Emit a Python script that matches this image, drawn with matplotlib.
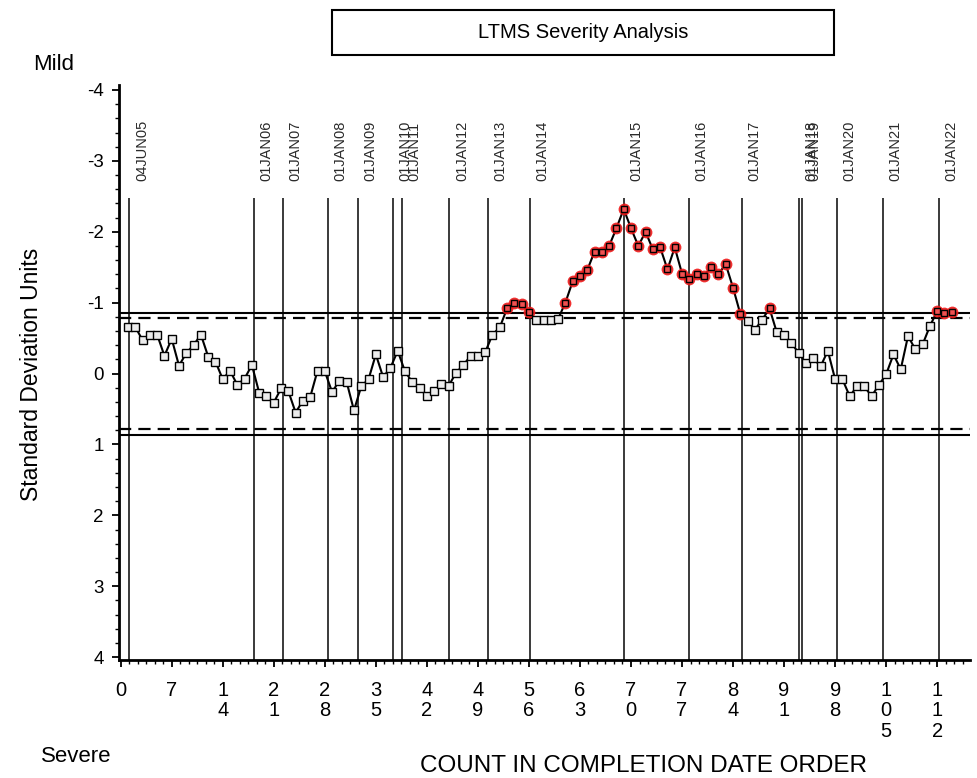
import numpy as np
import matplotlib
matplotlib.use("Agg")
import matplotlib.pyplot as plt
from matplotlib.patches import Rectangle
from matplotlib.ticker import MultipleLocator, AutoMinorLocator, FuncFormatter

plt.rcParams.update({
    "font.family": ["Liberation Sans", "DejaVu Sans"],
    "axes.unicode_minus": False,
})

# --------------- DATA -------------------------------------------------------
# severity in standard deviation units, one value per test (completion order)
sd_units = [
    -0.66, -0.66, -0.47, -0.55, -0.55, -0.25, -0.49, -0.11, -0.29, -0.40,
    -0.55, -0.24, -0.17, 0.08, -0.04, 0.16, 0.07, -0.12, 0.27, 0.32,
    0.41, 0.21, 0.25, 0.55, 0.38, 0.33, -0.04, -0.03, 0.26, 0.10,
    0.12, 0.52, 0.18, 0.08, -0.27, 0.05, -0.08, -0.32, -0.03, 0.12,
    0.20, 0.32, 0.25, 0.15, 0.17, -0.01, -0.12, -0.25, -0.25, -0.30,
    -0.55, -0.65, -0.92, -1.00, -0.98, -0.87, -0.75, -0.75, -0.75, -0.77,
    -1.00, -1.30, -1.38, -1.46, -1.72, -1.72, -1.80, -2.05, -2.32, -2.05,
    -1.80, -2.00, -1.75, -1.78, -1.47, -1.78, -1.41, -1.33, -1.41, -1.38,
    -1.50, -1.41, -1.54, -1.21, -0.84, -0.74, -0.62, -0.76, -0.92, -0.58,
    -0.55, -0.43, -0.29, -0.15, -0.22, -0.10, -0.32, 0.08, 0.08, 0.32,
    0.18, 0.18, 0.32, 0.16, 0.01, -0.27, -0.06, -0.53, -0.34, -0.41,
    -0.67, -0.88, -0.86, -0.87,
]
counts = np.arange(1, len(sd_units) + 1)

# year boundaries (count position) and their labels
date_pos = [1.2, 18.3, 22.3, 28.4, 32.5, 37.4, 38.6, 45.1, 50.4, 56.1,
            69.0, 78.0, 85.2, 93.0, 93.4, 98.3, 104.5, 112.2]
date_lbl = ["04JUN05", "01JAN06", "01JAN07", "01JAN08", "01JAN09", "01JAN10",
            "01JAN11", "01JAN12", "01JAN13", "01JAN14", "01JAN15", "01JAN16",
            "01JAN17", "01JAN18", "01JAN19", "01JAN20", "01JAN21", "01JAN22"]

# control limits
limit_solid = 0.86
limit_dash = 0.78

# --------------- FIGURE -----------------------------------------------------
W, H = 977, 778
fig = plt.figure(figsize=(W / 100, H / 100), dpi=100)
ax = fig.add_axes([119 / W, 1 - 660 / H, (970 - 119) / W, (660 - 85) / H])

vals = np.array(sd_units)
flag = vals < -limit_dash

# limits
for s in (-1, 1):
    ax.axhline(s * limit_solid, color="black", lw=1.5, zorder=2)
    ax.axhline(s * limit_dash, color="black", lw=1.6,
               linestyle=(0, (5.5, 3.2)), zorder=2)

# date lines + labels (JAN10/11 and JAN18/19 overlap in the original too)
ax.vlines(date_pos, -2.47, 4.2, color="#3a3a3a", lw=1.4, zorder=1)
for x, lab in zip(date_pos, date_lbl):
    ax.annotate(lab, xy=(x, -2.72), xytext=(9, 0), textcoords="offset points",
                rotation=90, ha="center", va="bottom", fontsize=10.5,
                color="#2a2a2a")

# series
ax.plot(counts, vals, color="black", lw=1.5, zorder=3)
ax.plot(counts[flag], vals[flag], "o", color="#f01818", ms=8.5, mec="none",
        alpha=0.9, zorder=4)
ax.plot(counts[~flag], vals[~flag], "s", mfc="#ececec", mec="black",
        ms=5.5, mew=1.0, zorder=5)
ax.plot(counts[flag], vals[flag], "s", mfc="#f05050", mec="black",
        ms=5, mew=1.0, zorder=5)

# axes styling
ax.set_xlim(-0.23, 116.5)
ax.set_ylim(4.04, -4.07)
for side in ("top", "right"):
    ax.spines[side].set_visible(False)
for side in ("left", "bottom"):
    ax.spines[side].set_linewidth(2.0)

ax.xaxis.set_major_locator(MultipleLocator(7))
ax.xaxis.set_minor_locator(AutoMinorLocator(6))
ax.xaxis.set_major_formatter(FuncFormatter(lambda v, p: "\n".join(str(int(round(v))))))
ax.yaxis.set_major_locator(MultipleLocator(1))
ax.yaxis.set_minor_locator(AutoMinorLocator(5))
ax.yaxis.set_major_formatter(FuncFormatter(lambda v, p: f"{int(round(v))}"))

ax.tick_params(axis="both", which="major", length=5, width=1.3,
               direction="out")
ax.tick_params(axis="both", which="minor", length=3, width=1.0,
               direction="out")
ax.tick_params(axis="x", which="major", pad=10, labelsize=14.5)
ax.tick_params(axis="y", which="major", pad=6, labelsize=13.5)
for t in ax.get_xticklabels():
    t.set_linespacing(1.1)
    t.set_va("top")

# --------------- TEXTS ------------------------------------------------------
fig.patches.append(Rectangle((332 / W, 1 - 55 / H), 502 / W, 45 / H,
                             transform=fig.transFigure, fill=False,
                             lw=1.5, edgecolor="black"))
fig.text(583 / W, 1 - 32 / H, "LTMS Severity Analysis", ha="center",
         va="center", fontsize=14.5)
fig.text(54 / W, 1 - 65 / H, "Mild", ha="center", va="center", fontsize=16)
fig.text(76 / W, 1 - 757 / H, "Severe", ha="center", va="center", fontsize=16)
fig.text(32 / W, 1 - 374 / H, "Standard Deviation Units", rotation=90,
         ha="center", va="center", fontsize=16.5)
fig.text(644 / W, 1 - 766 / H, "COUNT IN COMPLETION DATE ORDER",
         ha="center", va="center", fontsize=17.5)

fig.savefig("out.png", dpi=100, facecolor="white")
